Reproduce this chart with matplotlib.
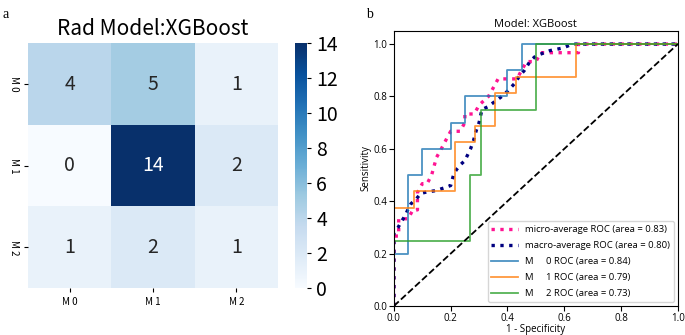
import numpy as np
import matplotlib
matplotlib.use("Agg")
import matplotlib.pyplot as plt
import seaborn as sns

plt.rcParams['font.family'] = ['Noto Sans CJK SC', 'DejaVu Sans']

# confusion matrix
labels = ["M 0", "M 1", "M 2"]
cm = np.array([[4, 5, 1],
               [0, 14, 2],
               [1, 2, 1]])

# ROC curves per class
fpr0 = [0, 0, 0.05, 0.05, 0.1, 0.1, 0.2, 0.2, 0.25, 0.25, 0.4, 0.4, 0.45, 0.45, 1.0]
tpr0 = [0, 0.2, 0.2, 0.5, 0.5, 0.6, 0.6, 0.7, 0.7, 0.8, 0.8, 0.9, 0.9, 1.0, 1.0]
fpr1 = [0, 0, 0.071, 0.071, 0.214, 0.214, 0.286, 0.286, 0.357, 0.357, 0.429, 0.429, 0.643, 0.643, 1.0]
tpr1 = [0, 0.375, 0.375, 0.4375, 0.4375, 0.625, 0.625, 0.6875, 0.6875, 0.8125, 0.8125, 0.875, 0.875, 1.0, 1.0]
fpr2 = [0, 0, 0.269, 0.269, 0.308, 0.308, 0.5, 0.5, 1.0]
tpr2 = [0, 0.25, 0.25, 0.5, 0.5, 0.75, 0.75, 1.0, 1.0]

fpr_micro = [0.0, 0.0, 0.017, 0.017, 0.05, 0.067, 0.083, 0.083, 0.1, 0.117, 0.133, 0.15, 0.167,
             0.183, 0.2, 0.233, 0.25, 0.25, 0.283, 0.3, 0.333, 0.35, 0.367, 0.433, 0.45, 0.467,
             0.5, 0.517, 0.55, 0.65, 0.65, 1.0]
tpr_micro = [0.0, 0.267, 0.267, 0.333, 0.333, 0.367, 0.367, 0.433, 0.467, 0.467, 0.5, 0.567, 0.6,
             0.633, 0.667, 0.667, 0.7, 0.733, 0.733, 0.767, 0.8, 0.833, 0.867, 0.867, 0.9, 0.933,
             0.933, 0.967, 0.967, 0.967, 1.0, 1.0]
fpr_macro = [0.0, 0.0, 0.015, 0.025, 0.04, 0.05, 0.06, 0.08, 0.095, 0.115, 0.145, 0.175, 0.2,
             0.21, 0.22, 0.235, 0.25, 0.27, 0.28, 0.29, 0.3, 0.31, 0.33, 0.355, 0.38, 0.4,
             0.43, 0.44, 0.46, 0.48, 0.5, 0.55, 0.595, 0.62, 0.64, 1.0]
tpr_macro = [0.0, 0.28, 0.3, 0.32, 0.345, 0.37, 0.39, 0.41, 0.43, 0.435, 0.44, 0.45, 0.46,
             0.5, 0.52, 0.54, 0.555, 0.6, 0.63, 0.67, 0.7, 0.75, 0.76, 0.78, 0.8, 0.82,
             0.855, 0.875, 0.9, 0.935, 0.955, 0.975, 0.985, 0.996, 1.0, 1.0]
aucs = [0.84, 0.79, 0.73]
auc_micro = 0.83
auc_macro = 0.80

fig = plt.figure(figsize=(6.85, 3.35), dpi=100, facecolor='white')

ax1 = fig.add_axes([0.041, 0.140, 0.365, 0.731])
cax = fig.add_axes([0.431, 0.140, 0.0175, 0.731])
sns.heatmap(cm, annot=True, fmt="d", cmap="Blues", vmin=0, vmax=14, ax=ax1, cbar_ax=cax,
            annot_kws={"size": 14}, xticklabels=labels, yticklabels=labels)
ax1.set_title("Rad Model:XGBoost", fontsize=15, pad=6)
ax1.tick_params(axis='both', labelsize=7, length=3)
plt.setp(ax1.get_yticklabels(), rotation=270, va='center')
cax.tick_params(labelsize=14, length=3)
cax.set_yticks(range(0, 15, 2))
for s in cax.spines.values():
    s.set_visible(False)

roc_font = ['Open Sans', 'DejaVu Sans']
ax2 = fig.add_axes([0.575, 0.0866, 0.4146, 0.821])
ax2.plot(fpr_micro, tpr_micro, color='deeppink', linestyle=':', linewidth=2.4,
         label='micro-average ROC (area = {:.2f})'.format(auc_micro))
ax2.plot(fpr_macro, tpr_macro, color='navy', linestyle=':', linewidth=2.4,
         label='macro-average ROC (area = {:.2f})'.format(auc_macro))
cols = ['#1f77b4', '#ff7f0e', '#2ca02c']
for i, (fx, ty) in enumerate([(fpr0, tpr0), (fpr1, tpr1), (fpr2, tpr2)]):
    ax2.plot(fx, ty, color=cols[i], linewidth=1.3, alpha=0.8,
             label='M     {} ROC (area = {:.2f})'.format(i, aucs[i]))
ax2.plot([0, 1], [0, 1], 'k--', linewidth=1.3)
ax2.set_xlim(0, 1.0)
ax2.set_ylim(0, 1.05)
ax2.set_xlabel("1 - Specificity", fontsize=7, labelpad=0, family=roc_font)
ax2.set_ylabel("Sensitivity", fontsize=7, labelpad=1, family=roc_font)
ax2.set_title("Model: XGBoost", fontsize=8, pad=3, family=roc_font)
ax2.tick_params(labelsize=7, pad=1.5)
for t in ax2.get_xticklabels() + ax2.get_yticklabels():
    t.set_family(roc_font)
ax2.legend(loc='lower right', prop={'family': roc_font, 'size': 6.8}, handlelength=2.8,
           labelspacing=0.75, borderaxespad=0.4)

fig.text(0.003, 0.975, "a", fontsize=10, family='Liberation Serif', va='top')
fig.text(0.535, 0.975, "b", fontsize=10, family='Liberation Serif', va='top')

fig.savefig("out.png", dpi=100, facecolor='white')
